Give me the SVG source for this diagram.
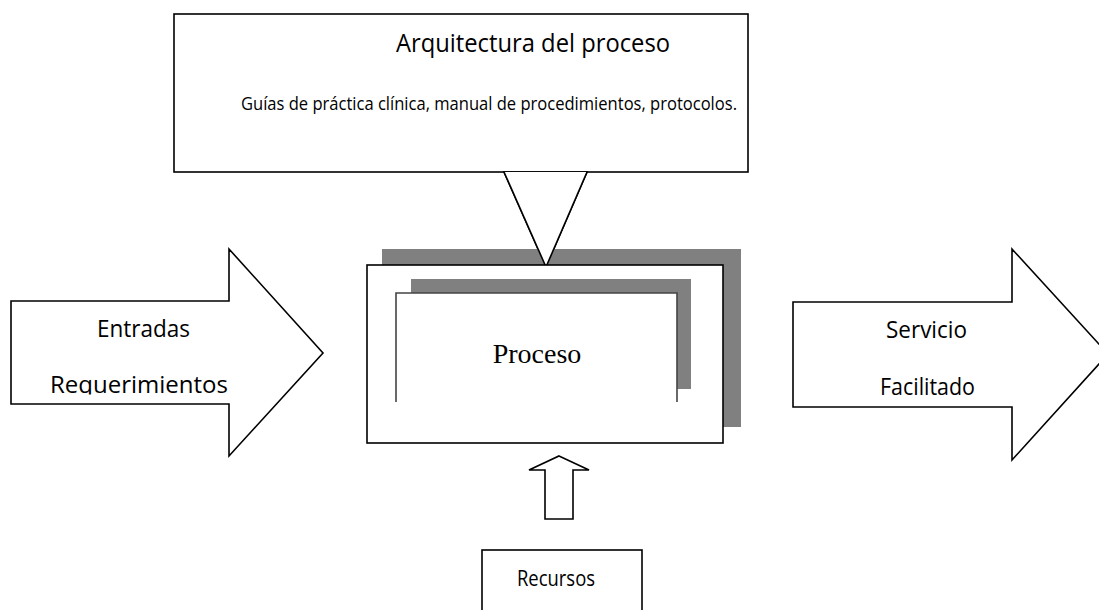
<svg xmlns="http://www.w3.org/2000/svg" width="1099" height="610" viewBox="0 0 1099 610">
<style>
.shape{fill:#fff;stroke:#000;stroke-width:1.6}
.sans{font-family:"Open Sans","Liberation Sans",sans-serif;fill:#000}
.serif{font-family:"Liberation Serif","Times New Roman",serif;fill:#000}
.gray{fill:#808080}
</style>
<defs>
<clipPath id="clipReq"><rect x="0" y="300" width="330" height="94.5"/></clipPath>
</defs>
<rect width="1099" height="610" fill="#fff"/>
<g id="arquitectura">
<rect class="shape" x="174" y="14" width="574" height="158"/>
<polygon class="shape" points="504,172 587,172 546,267"/>
<text class="sans" x="533" y="52" font-size="25" text-anchor="middle" textLength="274" lengthAdjust="spacingAndGlyphs">Arquitectura del proceso</text>
<text class="sans" x="489" y="110" font-size="18.2" text-anchor="middle" textLength="496" lengthAdjust="spacingAndGlyphs">Guías de práctica clínica, manual de procedimientos, protocolos.</text>
</g>
<g id="proceso">
<rect class="gray" x="382" y="249" width="359" height="178"/>
<polygon fill="#fff" points="504,172 587,172 546,267" stroke="none"/>
<line x1="504" y1="172" x2="546" y2="267" stroke="#000" stroke-width="1.6"/>
<line x1="587" y1="172" x2="546" y2="267" stroke="#000" stroke-width="1.6"/>
<rect class="shape" x="367" y="265" width="356" height="178" stroke-width="2"/>
<rect class="gray" x="411" y="279" width="280" height="110"/>
<rect fill="#fff" x="396" y="293" width="281" height="109"/>
<path d="M396,402 V293 H677 V402" fill="none" stroke="#444" stroke-width="1.6"/>
<text class="serif" x="537" y="363" font-size="28" text-anchor="middle">Proceso</text>
</g>
<g id="entradas">
<polygon class="shape" points="11,301 229,301 229,249 323,353 229,456 229,404 11,404"/>
<text class="sans" x="143.5" y="337" font-size="24" text-anchor="middle" textLength="93" lengthAdjust="spacingAndGlyphs">Entradas</text>
<text class="sans" x="139" y="393" font-size="24" text-anchor="middle" textLength="178" lengthAdjust="spacingAndGlyphs" clip-path="url(#clipReq)">Requerimientos</text>
</g>
<g id="servicio">
<polygon class="shape" points="793,302 1012,302 1012,249 1108,354 1012,460 1012,407 793,407"/>
<text class="sans" x="926.5" y="338" font-size="24" text-anchor="middle" textLength="81" lengthAdjust="spacingAndGlyphs">Servicio</text>
<text class="sans" x="927.5" y="395" font-size="24" text-anchor="middle" textLength="95" lengthAdjust="spacingAndGlyphs">Facilitado</text>
</g>
<g id="recursos">
<rect class="shape" x="482" y="550" width="160" height="70"/>
<text class="sans" x="556" y="586" font-size="21" text-anchor="middle" textLength="78" lengthAdjust="spacingAndGlyphs">Recursos</text>
</g>
<g id="connectors">
<polygon class="shape" points="559,456 589,470 573,470 573,519 545,519 545,470 529,470"/>
</g>
</svg>
